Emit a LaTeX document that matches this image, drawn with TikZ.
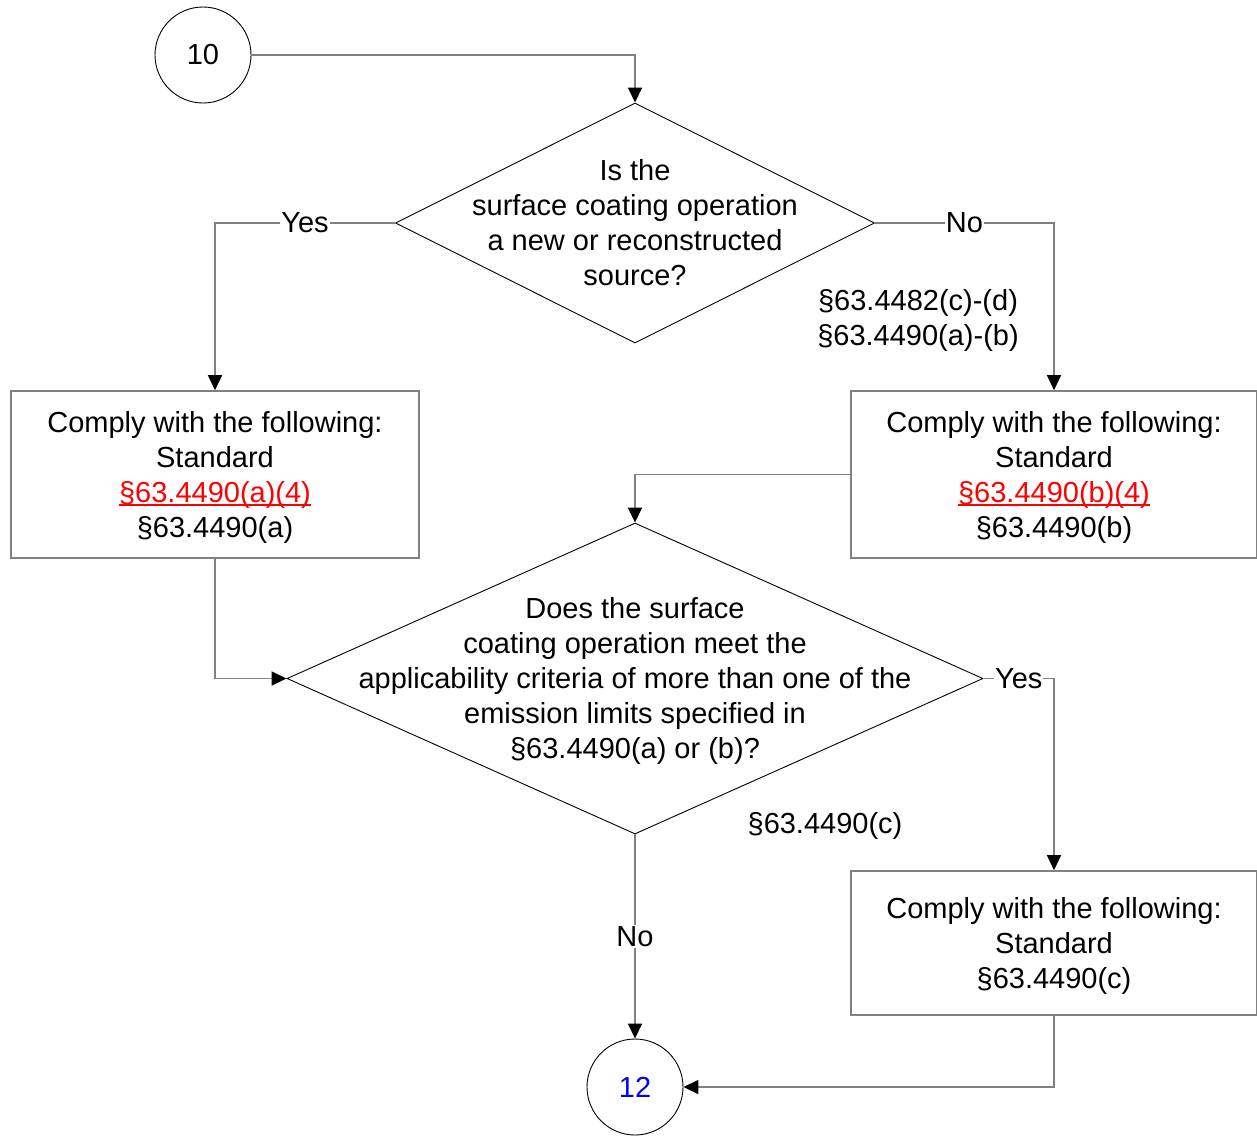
\documentclass[tikz,border=0pt]{standalone}
\usepackage{fontspec}
\setmainfont{Liberation Sans}
\usetikzlibrary{shapes.geometric,arrows.meta}
\definecolor{conn}{RGB}{128,128,128}
\definecolor{linkred}{RGB}{255,0,0}
\definecolor{numblue}{RGB}{0,0,255}
\newcommand\redul[1]{{\color{linkred}\setbox0\hbox{#1}\rlap{\raisebox{-4pt}{\rule{\wd0}{1.6pt}}}\box0}}
\begin{document}
\begin{tikzpicture}[x=1pt,y=-1pt,
  every node/.style={font=\fontsize{29}{35}\selectfont},
  circ/.style={circle,draw=black,line width=0.9pt,minimum size=96pt,inner sep=0pt},
  dia/.style={diamond,draw=black,line width=0.9pt,inner sep=0pt},
  box/.style={rectangle,draw=conn,line width=1.6pt,inner sep=0pt},
  txt/.style={align=center,inner sep=0pt},
  conn/.style={draw=conn,line width=1.6pt,-{Triangle[length=15pt,width=14pt,fill=black,color=black]}},
  lbl/.style={fill=white,inner sep=1pt}
]
\useasboundingbox (0,0) rectangle (1257,1135);
\node[circ] (c10) at (203,55) {10};
\node[dia,minimum width=479pt,minimum height=240pt] (d1) at (635,223) {};
\node[txt] (t1) at (635,223) {Is the\\surface coating operation\\a new or reconstructed\\source?};
\node[box,minimum width=408pt,minimum height=167pt] (b1) at (215,474.5) {};
\node[txt,yshift=-2.5pt] (bt1) at (b1) {Comply with the following:\\Standard\\\redul{§63.4490(a)(4)}\\§63.4490(a)};
\node[box,minimum width=406pt,minimum height=167pt] (b2) at (1054,474.5) {};
\node[txt,yshift=-2.5pt] (bt2) at (b2) {Comply with the following:\\Standard\\\redul{§63.4490(b)(4)}\\§63.4490(b)};
\node[txt] (s1) at (918,320) {§63.4482(c)-(d)\\§63.4490(a)-(b)};
\node[dia,minimum width=696pt,minimum height=311pt] (d2) at (635,678.5) {};
\node[txt] (t2) at (635,680.5) {Does the surface\\coating operation meet the\\applicability criteria of more than one of the\\emission limits specified in\\§63.4490(a) or (b)?};
\node[txt] (s2) at (825,825.5) {§63.4490(c)};
\node[box,minimum width=406pt,minimum height=144pt] (b3) at (1054,943) {};
\node[txt,yshift=-3pt] (bt3) at (b3) {Comply with the following:\\Standard\\§63.4490(c)};
\node[circ] (c12) at (635,1087) {\textcolor{numblue}{12}};

\draw[conn] (c10.east) -| (d1.north);
\draw[conn] (d1.west) -| node[lbl,pos=0.25] {Yes} (b1.north);
\draw[conn] (d1.east) -| node[lbl,pos=0.25] {No} (b2.north);
\draw[conn] (b2.west) -| (d2.north);
\draw[conn] (b1.south) |- (d2.west);
\draw[conn] (d2.east) -| node[lbl,pos=0.25] {Yes} (b3.north);
\draw[conn] (d2.south) -- node[lbl,pos=0.5] {No} (c12.north);
\draw[conn] (b3.south) |- (c12.east);
\end{tikzpicture}
\end{document}
